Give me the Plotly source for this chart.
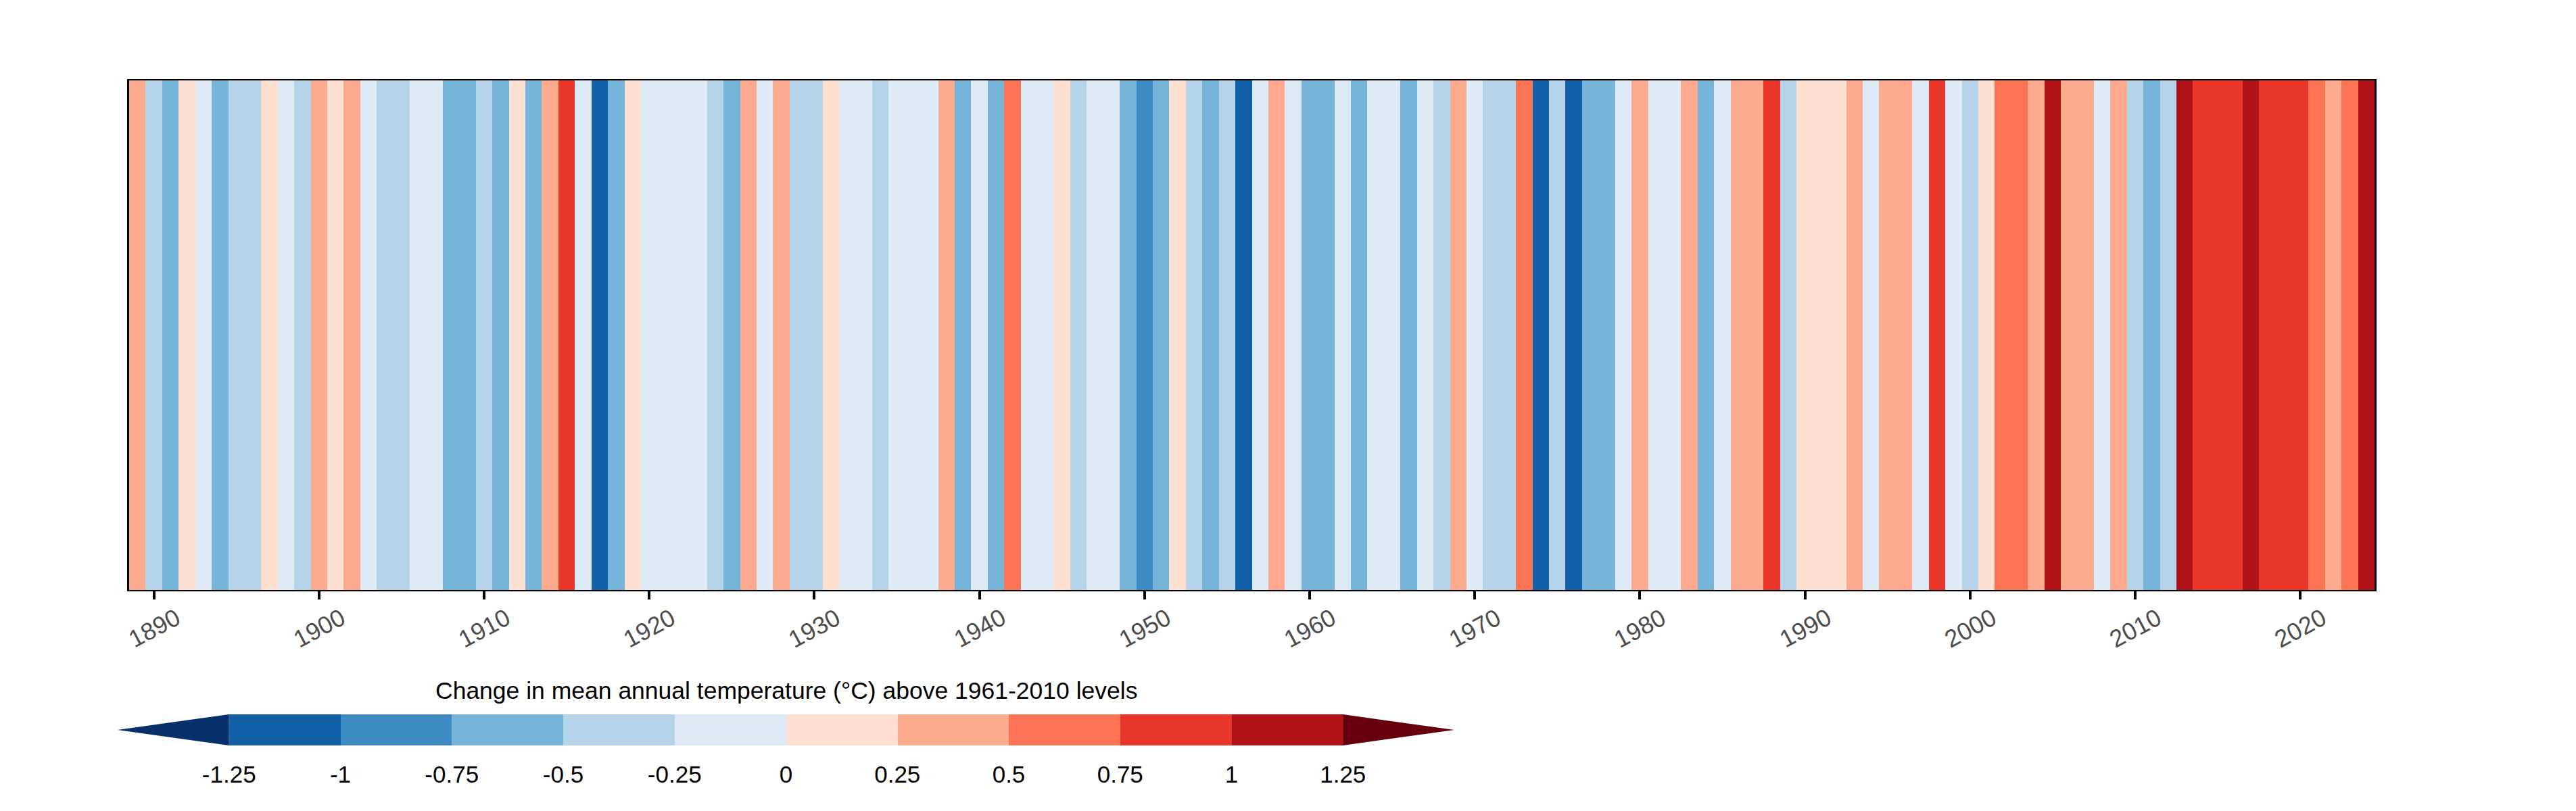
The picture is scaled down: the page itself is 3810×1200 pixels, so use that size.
import plotly.graph_objects as go

years = list(range(1889, 2025))
# Anomaly (deg C)
anomaly = [
    0.37, -0.37, -0.62, 0.12, -0.12, -0.62, -0.37, -0.37, 0.12, -0.12, -0.37,  # 1889-1899
    0.37, 0.12, 0.37, -0.12, -0.37, -0.37, -0.12, -0.12, -0.62, -0.62,        # 1900-1909
    -0.37, -0.62, 0.12, -0.62, 0.37, 0.87, -0.12, -1.12, -0.62, 0.12,         # 1910-1919
    -0.12, -0.12, -0.12, -0.12, -0.37, -0.62, 0.37, -0.12, 0.37, -0.37,       # 1920-1929
    -0.37, 0.12, -0.12, -0.12, -0.37, -0.12, -0.12, -0.12, 0.37, -0.62,       # 1930-1939
    -0.12, -0.62, 0.62, -0.12, -0.12, 0.12, -0.37, -0.12, -0.12, -0.62,       # 1940-1949
    -0.87, -0.62, 0.12, -0.37, -0.62, -0.37, -1.12, -0.12, 0.37, -0.12,       # 1950-1959
    -0.62, -0.62, -0.12, -0.62, -0.12, -0.12, -0.62, -0.12, -0.37, 0.37,      # 1960-1969
    -0.12, -0.37, -0.37, 0.62, -1.12, -0.37, -1.12, -0.62, -0.62, -0.12,      # 1970-1979
    0.37, -0.12, -0.12, 0.37, -0.62, -0.12, 0.37, 0.37, 0.87, -0.37,          # 1980-1989
    0.12, 0.12, 0.12, 0.37, -0.12, 0.37, 0.37, -0.12, 0.87, -0.12,            # 1990-1999
    -0.37, 0.12, 0.62, 0.62, 0.37, 1.12, 0.37, 0.37, -0.12, 0.37,             # 2000-2009
    -0.37, -0.62, -0.37, 1.12, 0.87, 0.87, 0.87, 1.12, 0.87, 0.87,            # 2010-2019
    0.87, 0.62, 0.37, 0.62, 1.12,                                             # 2020-2024
]

band_edges = [-1.5, -1.25, -1.0, -0.75, -0.5, -0.25, 0.0, 0.25, 0.5, 0.75, 1.0, 1.25, 1.5]
band_colors = ["#08306b", "#1260a8", "#3c8cc3", "#76b4d9", "#b5d4e9", "#deeaf6",
               "#fde0d2", "#fcab8f", "#fd7455", "#e9362a", "#b11218", "#67000d"]
bar_bands = [-1.125, -0.875, -0.625, -0.375, -0.125, 0.125, 0.375, 0.625, 0.875, 1.125]
bar_ticks = [-1.25, -1.0, -0.75, -0.5, -0.25, 0.0, 0.25, 0.5, 0.75, 1.0, 1.25]
bar_labels = ["-1.25", "-1", "-0.75", "-0.5", "-0.25", "0", "0.25", "0.5", "0.75", "1", "1.25"]
year_ticks = list(range(1890, 2030, 10))
bar_title = "Change in mean annual temperature (°C) above 1961-2010 levels"

W, H = 3810, 1200
span = band_edges[-1] - band_edges[0]
scale = []
for i, c in enumerate(band_colors):
    scale.append([(band_edges[i] - band_edges[0]) / span, c])
    scale.append([(band_edges[i + 1] - band_edges[0]) / span, c])

fig = go.Figure()
fig.add_trace(go.Heatmap(x=years, y=[0], z=[anomaly], colorscale=scale, zmin=-1.5, zmax=1.5,
                         showscale=False, xaxis="x", yaxis="y"))
fig.add_trace(go.Heatmap(x=bar_bands, y=[0], z=[bar_bands], colorscale=scale, zmin=-1.5, zmax=1.5,
                         showscale=False, xaxis="x2", yaxis="y2"))
# Extension arrows of the colour bar
fig.add_trace(go.Scatter(x=[-1.25, -1.25, -1.5], y=[-0.5, 0.5, 0], fill="toself", mode="none",
                         fillcolor=band_colors[0], xaxis="x2", yaxis="y2", showlegend=False))
fig.add_trace(go.Scatter(x=[1.25, 1.25, 1.5], y=[-0.5, 0.5, 0], fill="toself", mode="none",
                         fillcolor=band_colors[-1], xaxis="x2", yaxis="y2", showlegend=False))

font = "Liberation Sans, Arial, sans-serif"
year_notes = [dict(text=str(y), x=y, xref="x", y=1 - 929 / H, yref="paper", xanchor="center",
                   yanchor="middle", textangle=-28, showarrow=False,
                   font=dict(size=36, color="#4d4d4d", family=font)) for y in year_ticks if y <= 2020]
fig.update_layout(
    width=W, height=H, margin=dict(l=0, r=0, t=0, b=0, autoexpand=False),
    paper_bgcolor="white", plot_bgcolor="white", showlegend=False,
    font=dict(family=font, size=35, color="black"),
    xaxis=dict(domain=[191 / W, 3512 / W], range=[1888.5, 2024.5], anchor="y",
               tickvals=year_ticks, showticklabels=False,
               ticks="outside", ticklen=12, tickwidth=4, tickcolor="black",
               showline=True, linecolor="black", linewidth=1.5, mirror=True,
               showgrid=False, zeroline=False),
    yaxis=dict(domain=[1 - 873 / H, 1 - 119 / H], range=[-0.5, 0.5], anchor="x",
               showticklabels=False, ticks="", showline=True, linecolor="black",
               linewidth=3, mirror=True, showgrid=False, zeroline=False),
    xaxis2=dict(domain=[174 / W, 2151 / W], range=[-1.5, 1.5], anchor="y2",
                tickvals=bar_ticks, ticktext=bar_labels, ticks="outside", ticklen=12,
                tickcolor="rgba(0,0,0,0)", tickfont=dict(size=35, color="black", family=font),
                showgrid=False, zeroline=False, showline=False),
    yaxis2=dict(domain=[1 - 1103 / H, 1 - 1057 / H], range=[-0.5, 0.5], anchor="x2",
                showticklabels=False, ticks="", showgrid=False, zeroline=False, showline=False),
    annotations=year_notes + [dict(text=bar_title, x=0, xref="x2", y=1 - 1022 / H, yref="paper",
                      xanchor="center", yanchor="middle", showarrow=False,
                      font=dict(size=35.5, color="black", family=font))],
)
fig.write_html("out.html", post_script="document.body.style.margin='0';",
               config=dict(displayModeBar=False))
